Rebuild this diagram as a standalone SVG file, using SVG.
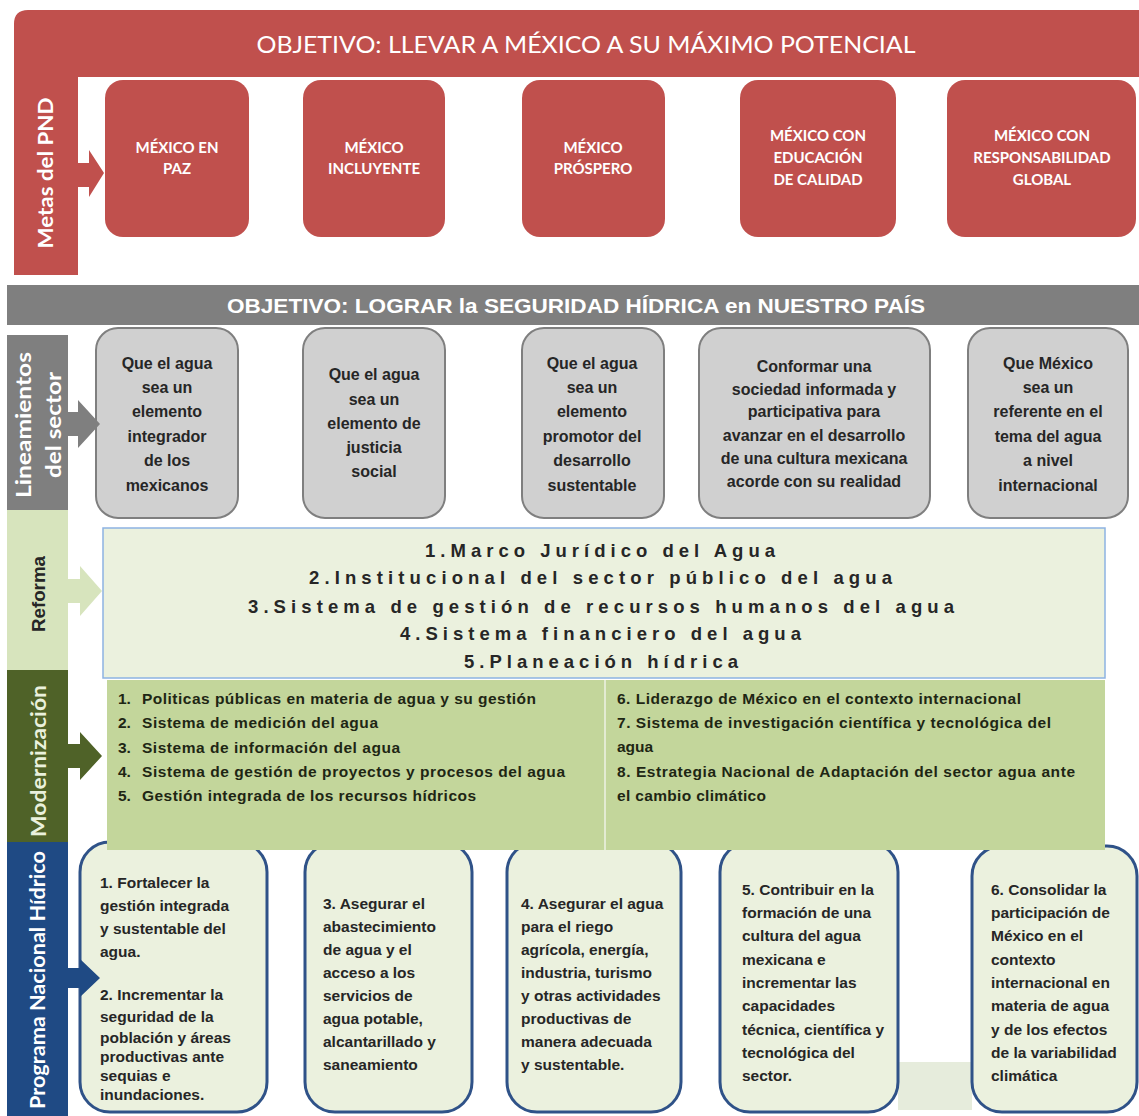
<svg xmlns="http://www.w3.org/2000/svg" width="1139" height="1116" viewBox="0 0 1139 1116">
<style>
.cal{font-family:Lato,"Open Sans","Liberation Sans",sans-serif;font-weight:bold}
.ar{font-family:"Liberation Sans",Arial,sans-serif;font-weight:bold}
.wh{fill:#ffffff}
.redbox{fill:#C0504D}
.redtxt{font-size:15px;fill:#ffffff;text-anchor:middle}
.graybox{fill:#D0D0D0;stroke:#7F7F7F;stroke-width:2}
.graytxt{font-size:16px;fill:#262626;text-anchor:middle}
.modtxt{font-size:15.5px;fill:#1E2614}
.reftxt{font-size:18.5px;fill:#262626}
.pbox{fill:#EBF1DE;stroke:#2F5288;stroke-width:3}
.ptxt{font-size:15.5px;fill:#262626}
</style>
<rect width="1139" height="1116" fill="#ffffff"/>

<!-- PND section -->
<g id="pnd-frame">
<path d="M14,275 L14,24 Q14,10 28,10 L1139,10 L1139,77 L78,77 L78,275 Z" fill="#C0504D"/>
<text class="cal wh" x="586" y="53" font-size="24" text-anchor="middle" textLength="659" lengthAdjust="spacingAndGlyphs" style="font-weight:normal">OBJETIVO: LLEVAR A MÉXICO A SU MÁXIMO POTENCIAL</text>
<text class="cal wh" transform="translate(53,173) rotate(-90)" font-size="20" text-anchor="middle" textLength="151" lengthAdjust="spacingAndGlyphs">Metas del PND</text>
</g>
<g id="meta1"><rect class="redbox" x="105" y="80" width="144" height="157" rx="18"/>
<text class="cal redtxt"><tspan x="177" y="153">MÉXICO EN</tspan><tspan x="177" y="174">PAZ</tspan></text></g>
<g id="meta2"><rect class="redbox" x="303" y="80" width="142" height="157" rx="18"/>
<text class="cal redtxt"><tspan x="374" y="153">MÉXICO</tspan><tspan x="374" y="174">INCLUYENTE</tspan></text></g>
<g id="meta3"><rect class="redbox" x="522" y="80" width="143" height="157" rx="18"/>
<text class="cal redtxt"><tspan x="593" y="153">MÉXICO</tspan><tspan x="593" y="174">PRÓSPERO</tspan></text></g>
<g id="meta4"><rect class="redbox" x="740" y="80" width="156" height="157" rx="18"/>
<text class="cal redtxt"><tspan x="818" y="141">MÉXICO CON</tspan><tspan x="818" y="163">EDUCACIÓN</tspan><tspan x="818" y="185">DE CALIDAD</tspan></text></g>
<g id="meta5"><rect class="redbox" x="947" y="80" width="189" height="157" rx="18"/>
<text class="cal redtxt"><tspan x="1042" y="141">MÉXICO CON</tspan><tspan x="1042" y="163">RESPONSABILIDAD</tspan><tspan x="1042" y="185">GLOBAL</tspan></text></g>

<!-- Objective 2 -->
<g id="objetivo-hidrico">
<rect x="7" y="285" width="1132" height="40" fill="#7F7F7F"/>
<text class="ar wh" x="227" y="313" font-size="21" textLength="698" lengthAdjust="spacingAndGlyphs">OBJETIVO: LOGRAR la SEGURIDAD HÍDRICA en NUESTRO PAÍS</text>
</g>

<!-- Left headers -->
<g id="hdr-lineamientos">
<rect x="7" y="335" width="61" height="175" fill="#7F7F7F"/>
<text class="cal wh" transform="translate(31,425) rotate(-90)" font-size="21" text-anchor="middle" textLength="146" lengthAdjust="spacingAndGlyphs">Lineamientos</text>
<text class="cal wh" transform="translate(61,425) rotate(-90)" font-size="21" text-anchor="middle" textLength="106" lengthAdjust="spacingAndGlyphs">del sector</text>
</g>
<g id="hdr-reforma">
<rect x="7" y="510" width="61" height="160" fill="#D7E4BD"/>
<text class="ar" transform="translate(45,594) rotate(-90)" font-size="18" fill="#262626" text-anchor="middle" textLength="76" lengthAdjust="spacingAndGlyphs">Reforma</text>
</g>
<g id="hdr-modernizacion">
<rect x="7" y="670" width="61" height="172" fill="#4F6228"/>
<text class="cal" transform="translate(46,761) rotate(-90)" font-size="20" fill="#EAF1DD" text-anchor="middle" textLength="152" lengthAdjust="spacingAndGlyphs">Modernización</text>
</g>
<g id="hdr-programa">
<rect x="7" y="842" width="61" height="274" fill="#1F4A84"/>
<text class="cal wh" transform="translate(45,980) rotate(-90)" font-size="20" text-anchor="middle" textLength="258" lengthAdjust="spacingAndGlyphs">Programa Nacional Hídrico</text>
</g>

<!-- Lineamientos boxes -->
<g id="lin1"><rect class="graybox" x="96" y="328" width="142" height="190" rx="22"/>
<text class="ar graytxt"><tspan x="167" y="369">Que el agua</tspan><tspan x="167" y="393">sea un</tspan><tspan x="167" y="417">elemento</tspan><tspan x="167" y="442">integrador</tspan><tspan x="167" y="466">de los</tspan><tspan x="167" y="491">mexicanos</tspan></text></g>
<g id="lin2"><rect class="graybox" x="303" y="328" width="142" height="190" rx="22"/>
<text class="ar graytxt"><tspan x="374" y="380">Que el agua</tspan><tspan x="374" y="405">sea un</tspan><tspan x="374" y="429">elemento de</tspan><tspan x="374" y="453">justicia</tspan><tspan x="374" y="477">social</tspan></text></g>
<g id="lin3"><rect class="graybox" x="522" y="328" width="142" height="190" rx="22"/>
<text class="ar graytxt"><tspan x="592" y="369">Que el agua</tspan><tspan x="592" y="393">sea un</tspan><tspan x="592" y="417">elemento</tspan><tspan x="592" y="442">promotor del</tspan><tspan x="592" y="466">desarrollo</tspan><tspan x="592" y="491">sustentable</tspan></text></g>
<g id="lin4"><rect class="graybox" x="699" y="328" width="231" height="190" rx="22"/>
<text class="ar graytxt"><tspan x="814" y="372">Conformar una</tspan><tspan x="814" y="395">sociedad informada y</tspan><tspan x="814" y="417">participativa para</tspan><tspan x="814" y="441">avanzar en el desarrollo</tspan><tspan x="814" y="464">de una cultura mexicana</tspan><tspan x="814" y="487">acorde con su realidad</tspan></text></g>
<g id="lin5"><rect class="graybox" x="968" y="328" width="160" height="190" rx="22"/>
<text class="ar graytxt"><tspan x="1048" y="369">Que México</tspan><tspan x="1048" y="393">sea un</tspan><tspan x="1048" y="417">referente en el</tspan><tspan x="1048" y="442">tema del agua</tspan><tspan x="1048" y="466">a nivel</tspan><tspan x="1048" y="491">internacional</tspan></text></g>

<!-- Reforma -->
<g id="reforma">
<rect x="103" y="528" width="1002" height="150" fill="#EBF1DE" stroke="#8DB3E2" stroke-width="1.5"/>
<text class="ar reftxt" x="425" y="556.5" textLength="350" lengthAdjust="spacing">1.Marco Jurídico del Agua</text>
<text class="ar reftxt" x="309" y="583.5" textLength="583" lengthAdjust="spacing">2.Institucional del sector público del agua</text>
<text class="ar reftxt" x="248" y="612.5" textLength="706" lengthAdjust="spacing">3.Sistema de gestión de recursos humanos del agua</text>
<text class="ar reftxt" x="400" y="639.5" textLength="401" lengthAdjust="spacing">4.Sistema financiero del agua</text>
<text class="ar reftxt" x="464" y="667.5" textLength="274" lengthAdjust="spacing">5.Planeación hídrica</text>
</g>

<!-- Programa boxes (drawn before modernización so their tops are covered) -->
<rect x="898" y="1062" width="74" height="48" fill="#E6ECDC"/>
<g id="pnh1"><rect class="pbox" x="80" y="842" width="187" height="270" rx="30"/>
<text class="ar ptxt"><tspan x="100" y="888">1. Fortalecer la</tspan><tspan x="100" y="911">gestión integrada</tspan><tspan x="100" y="934">y sustentable del</tspan><tspan x="100" y="957">agua.</tspan><tspan x="100" y="1000">2. Incrementar la</tspan><tspan x="100" y="1022">seguridad de la</tspan><tspan x="100" y="1043">población y áreas</tspan><tspan x="100" y="1062">productivas ante</tspan><tspan x="100" y="1081">sequias e</tspan><tspan x="100" y="1100">inundaciones.</tspan></text></g>
<g id="pnh3"><rect class="pbox" x="305" y="842" width="167" height="270" rx="30"/>
<text class="ar ptxt"><tspan x="323" y="909">3. Asegurar el</tspan><tspan x="323" y="932">abastecimiento</tspan><tspan x="323" y="955">de agua y el</tspan><tspan x="323" y="978">acceso a los</tspan><tspan x="323" y="1001">servicios de</tspan><tspan x="323" y="1024">agua potable,</tspan><tspan x="323" y="1047">alcantarillado y</tspan><tspan x="323" y="1070">saneamiento</tspan></text></g>
<g id="pnh4"><rect class="pbox" x="507" y="842" width="174" height="270" rx="30"/>
<text class="ar ptxt"><tspan x="521" y="909">4. Asegurar el agua</tspan><tspan x="521" y="932">para el riego</tspan><tspan x="521" y="955">agrícola, energía,</tspan><tspan x="521" y="978">industria, turismo</tspan><tspan x="521" y="1001">y otras actividades</tspan><tspan x="521" y="1024">productivas de</tspan><tspan x="521" y="1047">manera adecuada</tspan><tspan x="521" y="1070">y sustentable.</tspan></text></g>
<g id="pnh5"><rect class="pbox" x="720" y="842" width="178" height="270" rx="30"/>
<text class="ar ptxt"><tspan x="742" y="895">5. Contribuir en la</tspan><tspan x="742" y="918">formación de una</tspan><tspan x="742" y="941">cultura del agua</tspan><tspan x="742" y="965">mexicana e</tspan><tspan x="742" y="988">incrementar las</tspan><tspan x="742" y="1011">capacidades</tspan><tspan x="742" y="1035">técnica, científica y</tspan><tspan x="742" y="1058">tecnológica del</tspan><tspan x="742" y="1081">sector.</tspan></text></g>
<g id="pnh6"><rect class="pbox" x="972" y="846" width="165" height="266" rx="30"/>
<text class="ar ptxt"><tspan x="991" y="895">6. Consolidar la</tspan><tspan x="991" y="918">participación de</tspan><tspan x="991" y="941">México en el</tspan><tspan x="991" y="965">contexto</tspan><tspan x="991" y="988">internacional en</tspan><tspan x="991" y="1011">materia de agua</tspan><tspan x="991" y="1035">y de los efectos</tspan><tspan x="991" y="1058">de la variabilidad</tspan><tspan x="991" y="1081">climática</tspan></text></g>

<!-- Modernización -->
<g id="modernizacion">
<rect x="107" y="680" width="998" height="170" fill="#C3D69B"/>
<line x1="605" y1="680" x2="605" y2="850" stroke="#E3EBD2" stroke-width="2"/>
<text class="ar modtxt" y="703.5"><tspan x="118">1.</tspan><tspan x="142" textLength="394" lengthAdjust="spacing">Politicas públicas en materia de agua y su gestión</tspan></text>
<text class="ar modtxt" y="728"><tspan x="118">2.</tspan><tspan x="142" textLength="236" lengthAdjust="spacing">Sistema de medición del agua</tspan></text>
<text class="ar modtxt" y="752.5"><tspan x="118">3.</tspan><tspan x="142" textLength="258" lengthAdjust="spacing">Sistema de información del agua</tspan></text>
<text class="ar modtxt" y="776.5"><tspan x="118">4.</tspan><tspan x="142" textLength="423" lengthAdjust="spacing">Sistema de gestión de proyectos y procesos del agua</tspan></text>
<text class="ar modtxt" y="800.5"><tspan x="118">5.</tspan><tspan x="142" textLength="334" lengthAdjust="spacing">Gestión integrada de los recursos hídricos</tspan></text>
<text class="ar modtxt" x="617" y="703.5" textLength="404" lengthAdjust="spacing">6. Liderazgo de México en el contexto internacional</text>
<text class="ar modtxt" x="617" y="727.5" textLength="434" lengthAdjust="spacing">7. Sistema de investigación científica y tecnológica del</text>
<text class="ar modtxt" x="617" y="751.5">agua</text>
<text class="ar modtxt" x="617" y="776.5" textLength="458" lengthAdjust="spacing">8. Estrategia Nacional de Adaptación del sector agua ante</text>
<text class="ar modtxt" x="617" y="800.5" textLength="149" lengthAdjust="spacing">el cambio climático</text>
</g>

<!-- Connectors (block arrows) -->
<g id="connectors">
<polygon points="78,163 89,163 89,150 104,173 89,197 89,187 78,187" fill="#C0504D"/>
<polygon points="68,412 78,412 78,400 100,424 78,448 78,436 68,436" fill="#7F7F7F"/>
<polygon points="68,579 80,579 80,566 102,591 80,616 80,603 68,603" fill="#D7E4BD"/>
<polygon points="68,744 80,744 80,732 102,756 80,780 80,768 68,768" fill="#4F6228"/>
<polygon points="68,968 80,968 80,959 100,978 80,997 80,988 68,988" fill="#1F4A84"/>
</g>
</svg>
